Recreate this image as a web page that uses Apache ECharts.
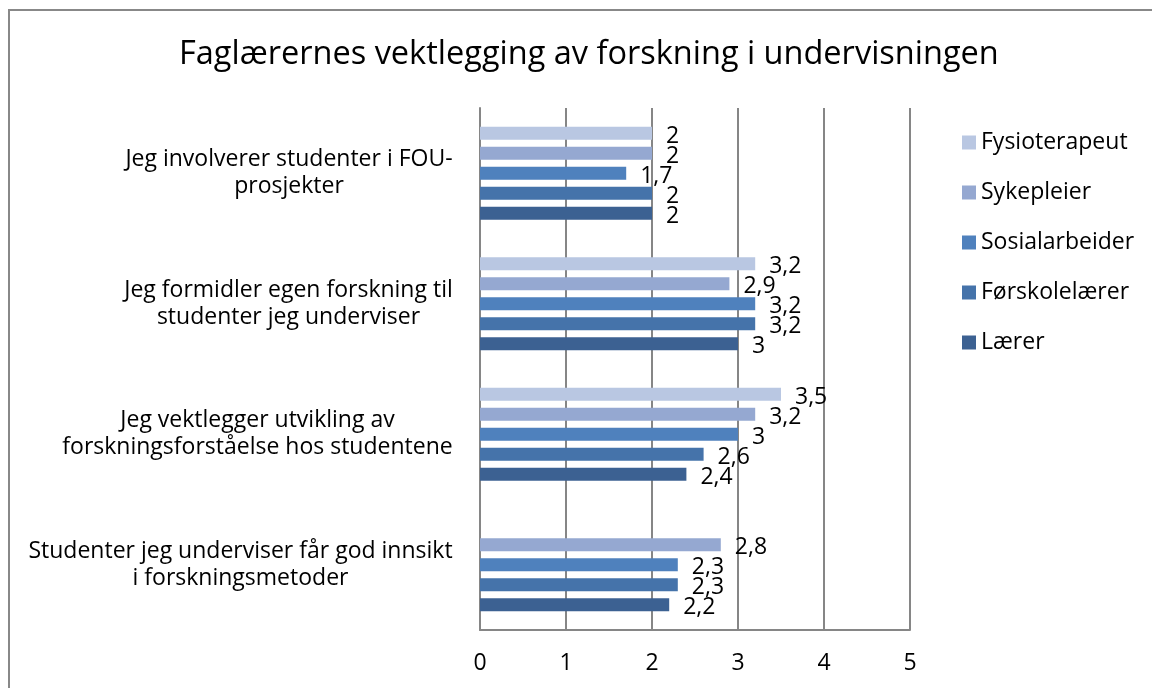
<!DOCTYPE html>
<html>
<head>
<meta charset="utf-8">
<script src="https://cdn.jsdelivr.net/npm/echarts@6/dist/echarts.min.js"></script>
<style>
  html, body { margin: 0; padding: 0; background: #fff; }
  #chart { width: 1152px; height: 688px; }
</style>
</head>
<body>
<div id="chart"></div>
<script>
// data
const categories = [
  'Jeg involverer studenter i FOU-\nprosjekter',
  'Jeg formidler egen forskning til\nstudenter jeg underviser',
  'Jeg vektlegger utvikling av\nforskningsforståelse hos studentene',
  'Studenter jeg underviser får god innsikt\ni forskningsmetoder'
];
const seriesNames = ['Fysioterapeut', 'Sykepleier', 'Sosialarbeider', 'Førskolelærer', 'Lærer'];
const fysioterapeut = [2, 3.2, 3.5, null];
const sykepleier = [2, 2.9, 3.2, 2.8];
const sosialarbeider = [1.7, 3.2, 3, 2.3];
const forskolelaerer = [2, 3.2, 2.6, 2.3];
const laerer = [2, 3, 2.4, 2.2];
const xTicks = [0, 1, 2, 3, 4, 5];

const colors = ['#B9C7E2', '#95A8D1', '#4F81BD', '#4573AA', '#3C6192'];
const font = '"Open Sans", "Noto Sans", sans-serif';
const labelSize = 23;

// Excel centres the wrapped lines inside the label block -> one rich style per label
const ctx = document.createElement('canvas').getContext('2d');
ctx.font = labelSize + 'px ' + font;
const rich = {};
categories.forEach((c, i) => {
  const w = Math.max(...c.split('\n').map(l => ctx.measureText(l).width));
  rich['c' + i] = {
    width: Math.ceil(w), align: 'center',
    fontSize: labelSize, fontFamily: font, color: '#000', lineHeight: 27
  };
});

const myChart = echarts.init(document.getElementById('chart'));
const allData = [fysioterapeut, sykepleier, sosialarbeider, forskolelaerer, laerer];

const option = {
  animation: false,
  color: colors,
  title: {
    text: 'Faglærernes vektlegging av forskning i undervisningen',
    left: 179,
    top: 38,
    padding: 0,
    textStyle: { fontFamily: font, fontSize: 32.5, fontWeight: 'normal', color: '#000' }
  },
  legend: {
    orient: 'vertical',
    left: 962,
    top: 131,
    padding: 0,
    itemWidth: 14,
    itemHeight: 14,
    itemGap: 27,
    icon: 'rect',
    data: seriesNames,
    textStyle: { fontFamily: font, fontSize: labelSize, color: '#000', lineHeight: 23 }
  },
  grid: { left: 480, right: 242, top: 108, bottom: 58 },
  xAxis: {
    type: 'value',
    min: xTicks[0],
    max: xTicks[xTicks.length - 1],
    interval: 1,
    axisLine: { show: true, lineStyle: { color: '#868686', width: 2 } },
    axisTick: { show: false },
    splitLine: { lineStyle: { color: '#868686', width: 2 } },
    axisLabel: { fontFamily: font, fontSize: labelSize, color: '#000', margin: 22 }
  },
  yAxis: {
    type: 'category',
    inverse: true,
    data: categories,
    axisLine: { lineStyle: { color: '#868686', width: 2 } },
    axisTick: { show: false },
    axisLabel: {
      margin: 27,
      align: 'right',
      formatter: (value, index) => value.split('\n').map(l => '{c' + index + '|' + l + '}').join('\n'),
      rich: rich
    }
  },
  graphic: [{
    type: 'rect',
    shape: { x: 9, y: 10, width: 1170, height: 700 },
    style: { fill: 'none', stroke: '#888', lineWidth: 2 },
    silent: true
  }],
  series: seriesNames.map((name, i) => ({
    name: name,
    type: 'bar',
    data: allData[i],
    barWidth: 13,
    barGap: '54%',
    itemStyle: { color: colors[i] },
    label: {
      show: true,
      position: 'right',
      distance: 14,
      offset: [0, 3],
      fontFamily: font,
      fontSize: labelSize,
      color: '#000',
      formatter: p => String(p.value).replace('.', ',')
    }
  }))
};
myChart.setOption(option);
window.addEventListener('resize', () => myChart.resize());
</script>
</body>
</html>
